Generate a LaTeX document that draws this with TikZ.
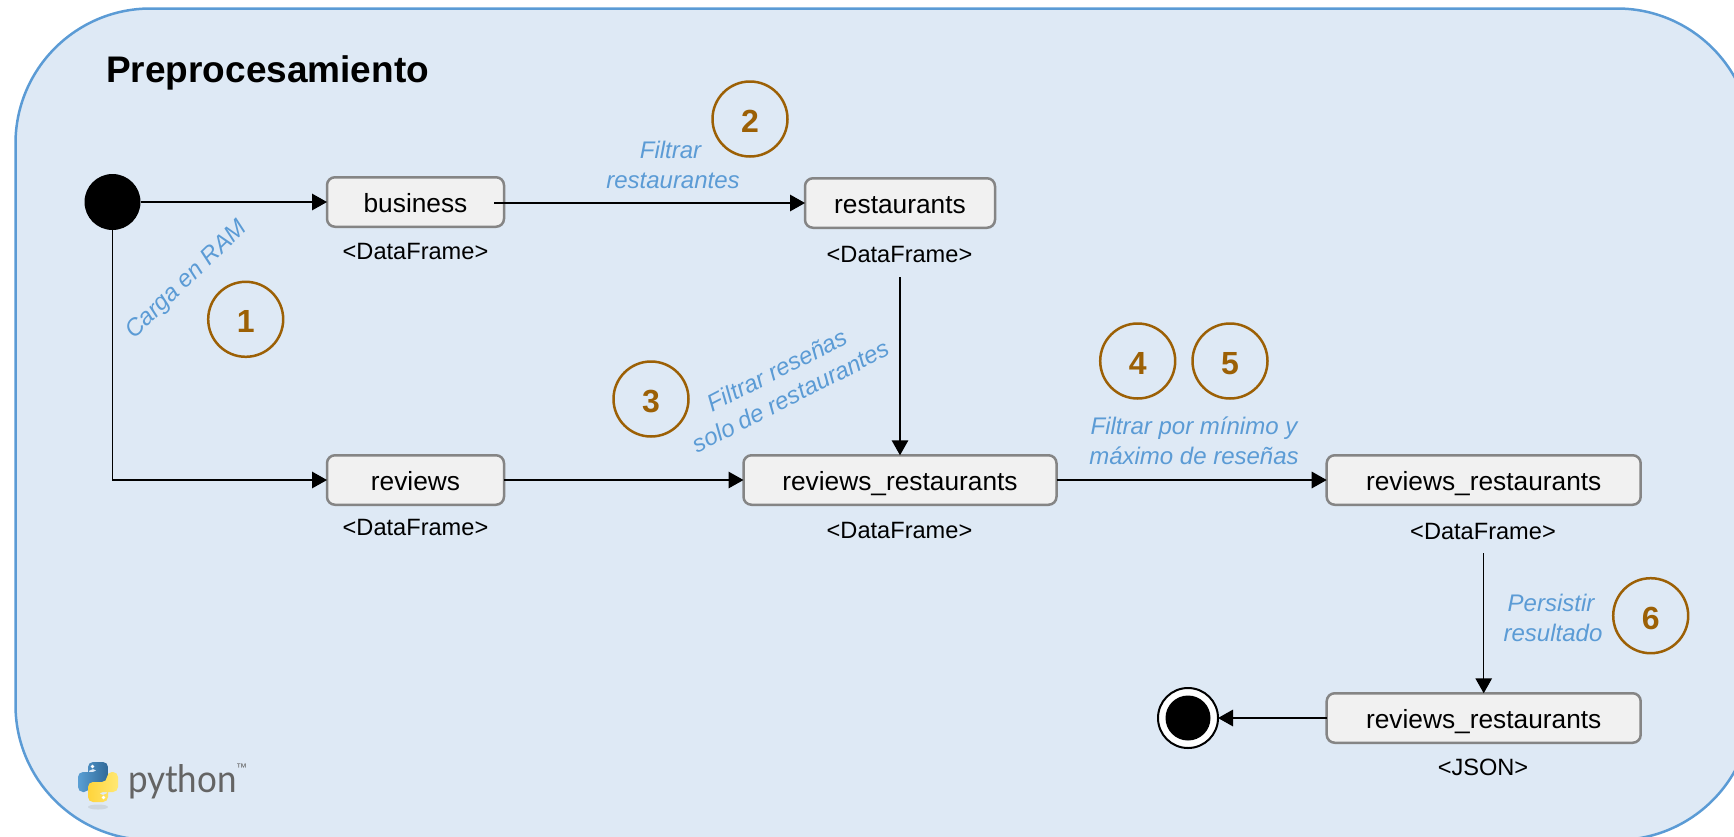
\documentclass[tikz,border=0pt]{standalone}
\usepackage{fontspec}
\setmainfont{Liberation Sans}
\newfontfamily\logofont{Lato}
\usetikzlibrary{arrows.meta}
\definecolor{panelfill}{HTML}{DEE9F5}
\definecolor{panelline}{HTML}{5B9BD5}
\definecolor{stepcolor}{HTML}{9C6005}
\definecolor{boxline}{HTML}{858585}
\definecolor{boxfill}{HTML}{F1F1F1}
\definecolor{pyblueA}{HTML}{5A9FD4}
\definecolor{pyblueB}{HTML}{306998}
\definecolor{pyyellowA}{HTML}{FFE873}
\definecolor{pyyellowB}{HTML}{FFD43B}
\definecolor{pytext}{HTML}{646464}

\begin{document}
\begin{tikzpicture}[x=1pt,y=-1pt,
  flow/.style={draw=black,line width=1.5pt,-{Triangle[length=15pt,width=16.5pt]}},
  state/.style={rectangle,draw=boxline,fill=boxfill,line width=2.5pt,rounded corners=8pt,
    minimum height=49.5pt,inner sep=0pt,outer sep=0pt,text height=25pt,text depth=5pt,
    font=\fontsize{26.3}{30}\selectfont},
  typelabel/.style={anchor=base,inner sep=0pt,font=\fontsize{23.6}{28}\selectfont},
  note/.style={text=panelline,align=center,inner sep=0pt,font=\fontsize{24}{29.5}\selectfont\itshape},
  stepmark/.style={circle,draw=stepcolor,line width=2.5pt,minimum size=75pt,inner sep=0pt,
    text height=27pt,text depth=0pt,text=stepcolor,font=\fontsize{32}{36}\selectfont\bfseries}]

\useasboundingbox (0,0) rectangle (1734,836);
\clip (0,0) rectangle (1734,836);
\draw[fill=panelfill,draw=panelline,line width=2.5pt,rounded corners=135pt] (15.5,8.5) rectangle (1752,840);

\node[anchor=base west,inner sep=0pt,font=\fontsize{37}{42}\selectfont\bfseries] (title) at (106,82) {Preprocesamiento};

% estados
\node[circle,fill=black,minimum size=56pt,inner sep=0pt,outer sep=0pt] (start) at (112.5,202) {};
\node[state,minimum width=177pt] (business) at (415.5,202) {business};
\node[state,minimum width=190pt] (restaurants) at (900,203) {restaurants};
\node[state,minimum width=177pt] (reviews) at (415.5,480) {reviews};
\node[state,minimum width=313pt] (revres) at (900,480) {reviews\_restaurants};
\node[state,minimum width=314pt] (revfilt) at (1483.7,480) {reviews\_restaurants};
\node[state,minimum width=314pt] (revjson) at (1483.7,718) {reviews\_restaurants};
\node[circle,draw=black,fill=white,line width=2pt,minimum size=60pt,inner sep=0pt,outer sep=0pt] (finish) at (1188,718) {};
\node[circle,fill=black,minimum size=45pt,inner sep=0pt] (finishin) at (1188,718) {};

\node[typelabel] (lblbusiness) at (415.5,259.5) {<DataFrame>};
\node[typelabel] (lblrestaurants) at (899.5,262.5) {<DataFrame>};
\node[typelabel] (lblreviews) at (415.5,535) {<DataFrame>};
\node[typelabel] (lblrevres) at (899.5,538.5) {<DataFrame>};
\node[typelabel] (lblrevfilt) at (1483,539) {<DataFrame>};
\node[typelabel] (lblrevjson) at (1483,775) {<JSON>};

% flechas
\coordinate (businessout) at (494,203);
\coordinate (restaurantsout) at (900,277);
\coordinate (revfiltout) at (1483.7,553);
\draw[flow] (start.east) -- (business.west);
\draw[flow] (start.south) |- (reviews.west);
\draw[flow] (businessout) -- (restaurants.west);
\draw[flow] (restaurantsout) -- (revres.north);
\draw[flow] (reviews.east) -- (revres.west);
\draw[flow] (revres.east) -- (revfilt.west);
\draw[flow] (revfiltout) -- (revjson.north);
\draw[flow] (revjson.west) -- (finish.east);

% textos
\node[note,rotate=44] (notecarga) at (187,280) {Carga en RAM};
\node[note] (notefiltrar) at (673,165) {Filtrar\hspace*{5pt}\\restaurantes};
\node[note,rotate=27] (noteresenas) at (784,383) {Filtrar reseñas\\solo de restaurantes};
\node[note] (noteminmax) at (1194,441) {Filtrar por mínimo y\\máximo de reseñas};
\node[note] (notepersist) at (1553,618) {Persistir\hspace*{4pt}\\resultado};

\node[stepmark] (one) at (245.7,319.3) {1};
\node[stepmark] (two) at (750,119) {2};
\node[stepmark] (three) at (651,399) {3};
\node[stepmark] (four) at (1137.7,361) {4};
\node[stepmark] (five) at (1230,361) {5};
\node[stepmark] (six) at (1650.7,615.7) {6};

% logo
\fill[gray,opacity=0.18] (98,807) ellipse (10pt and 2.5pt);
\path[left color=pyblueA,right color=pyblueB,rounded corners=5pt]
  (88,772) -- (88,762) -- (108,762) -- (108,782) -- (89,782) -- (89,792) -- (78,792) -- (78,772) -- (98,772) -- (98,769) -- (88,769) -- cycle;
\begin{scope}[rotate around={180:(98,782)}]
\path[left color=pyyellowB,right color=pyyellowA,rounded corners=5pt]
  (88,772) -- (88,762) -- (108,762) -- (108,782) -- (89,782) -- (89,792) -- (78,792) -- (78,772) -- (98,772) -- (98,769) -- (88,769) -- cycle;
\end{scope}
\fill[white] (92.5,766.5) circle (1.8pt);
\fill[white] (103.5,797.5) circle (1.8pt);
\node[anchor=base west,inner sep=0pt,text=pytext,xscale=0.92,font=\fontsize{38}{40}\selectfont\logofont] (pyname) at (128,792) {python};
\node[anchor=base west,inner sep=0pt,text=pytext,font=\fontsize{11}{12}\selectfont] (pymark) at (236,771) {™};
\end{tikzpicture}
\end{document}
